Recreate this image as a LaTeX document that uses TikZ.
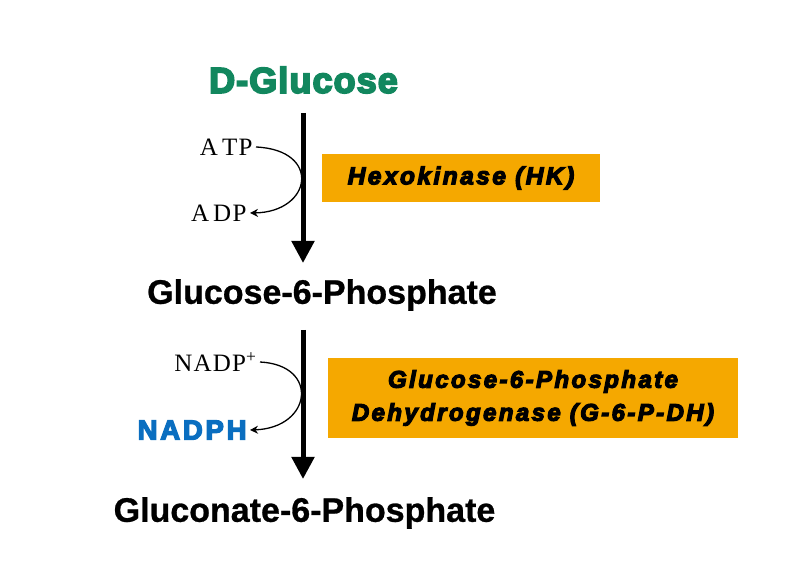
\documentclass[tikz,border=0pt]{standalone}
\usepackage{fontspec}
\setmainfont{Liberation Serif}
\newfontfamily\heavy{Liberation Sans}[LetterSpace=3,BoldFeatures={FakeBold=5},BoldItalicFeatures={FakeBold=5}]
\newfontfamily\heavyw{Liberation Sans}[LetterSpace=10,BoldItalicFeatures={FakeBold=5},BoldFeatures={FakeBold=5}]
\newfontfamily\bsans{Liberation Sans}[BoldFeatures={FakeBold=0.8}]
\newfontfamily\serifsp{Liberation Serif}[LetterSpace=5]
\usetikzlibrary{arrows.meta}
\definecolor{glgreen}{HTML}{12875E}
\definecolor{nadblue}{HTML}{0A6EC0}
\definecolor{enzorange}{HTML}{F5A800}
\tikzset{
  mainarrow/.style={line width=5pt,-{Triangle[width=22pt,length=22pt]}},
  sidearrow/.style={line width=1.3pt,-{Stealth[width=8pt,length=8pt]}},
  cof/.style={font=\serifsp\fontsize{25}{28}\selectfont},
  metab/.style={font=\bsans\bfseries\fontsize{34}{38}\selectfont},
  enzyme/.style={fill=enzorange,inner sep=0pt,font=\heavyw\bfseries\itshape\fontsize{24}{33}\selectfont,align=center}
}
\begin{document}
\begin{tikzpicture}[x=1pt,y=-1pt]
\useasboundingbox (0,0) rectangle (788,569);
\node[font=\heavy\bfseries\fontsize{36}{40}\selectfont,text=glgreen] (glc) at (303.5,80) {D-Glucose};
\node[metab] (g6p) at (322,295) {Glucose-6-Phosphate};
\node[metab] (gl6p) at (304.5,513) {Gluconate-6-Phosphate};
\coordinate (a1s) at (303,113);
\coordinate (a1e) at (303,263);
\coordinate (a2s) at (303,330);
\coordinate (a2e) at (303,479);
\draw[mainarrow] (a1s) -- (a1e);
\draw[mainarrow] (a2s) -- (a2e);
\node[cof,anchor=east] (atp) at (256,147) {A\,TP};
\node[cof,anchor=east] (adp) at (250,213) {A\,DP};
\draw[sidearrow] (atp.east) .. controls (322,150) and (312,212) .. (adp.east);
\node[enzyme,minimum width=278pt,minimum height=48pt,font=\heavyw\bfseries\itshape\fontsize{24.5}{33}\selectfont] (hk) at (461,178) {Hexokinase (HK)};
\node[cof,anchor=east] (nadp) at (260,362) {NADP\textsuperscript{+}};
\node[font=\heavyw\bfseries\fontsize{27.5}{30}\selectfont,text=nadblue,anchor=east] (nadph) at (250,430) {NADPH};
\draw[sidearrow] (nadp.east) .. controls (320,365) and (312,428) .. (nadph.east);
\node[enzyme,minimum width=410pt,minimum height=80pt] (g6pdh) at (533,398) {Glucose-6-Phosphate\\Dehydrogenase (G-6-P-DH)};
\end{tikzpicture}
\end{document}
